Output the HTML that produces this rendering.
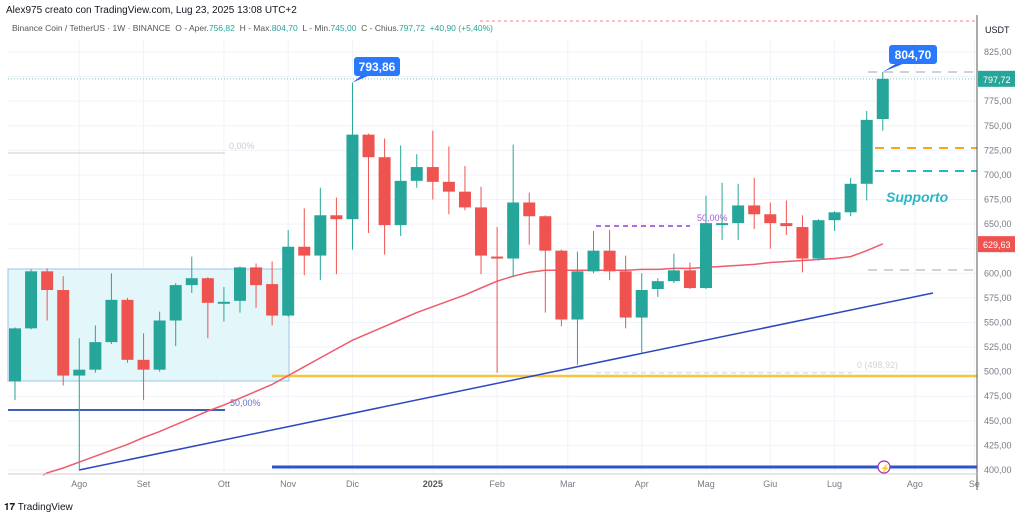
<!DOCTYPE html>
<html><head><meta charset="utf-8"><style>
body{margin:0;background:#fff;font-family:"Liberation Sans",sans-serif;}
#wrap{position:relative;width:1024px;height:517px;overflow:hidden;background:#fff}
svg text{font-family:"Liberation Sans",sans-serif}
tspan{white-space:pre}
</style></head><body><div id="wrap">
<svg id="c" width="1024" height="517"></svg>
</div>
<script>
const opens=[490,544,602,583,496,502,530,573,512,502,552,588,595,570,572,606,589,557,627,618,659,655,741,718,649,694,708,693,683,667,617,615,672,658,623,553,602,623,602,555,584,592,603,585,650,651,669,660,651,647,615,654,662,691,756.82];
const highs=[545,604,605,597,534,547,600,575,539,561,590,617,596,586,607,610,612,644,666,687,677,793.86,742,737,730,721,745,729,709,688,647,731,682,659,624,622,643,644,618,600,595,620,611,679,692,691,697,672,674,659,655,663,697,765,804.70];
const lows=[471,543,552,486,400,499,528,509,471,500,526,580,534,551,560,565,547,556,598,593,599,624,641,619,638,687,675,660,664,599,499,596,629,560,546,507,600,593,544,519,576,590,584,584,634,634,645,625,639,601,613,643,658,674,745];
const closes=[544,602,583,496,502,530,573,512,502,552,588,595,570,571,606,588,557,627,618,659,655,741,718,649,694,708,693,683,667,618,615,672,658,623,553,602,623,602,555,583,592,603,585,651,651,669,660,651,648,615,654,662,691,756,797.72];
const maStart=2;
const ma=[397,402,408,414,420,426,433,439,446,453,460,466,473,480,487,496,505,514,523,532,539,546,553,560,566,572,578,585,592,597,601,603,603,603,603,603,603,604,604,605,605,606,607,608,609,611,612,613,614,615,617,623,630];
const yTicks=[825,800,775,750,725,700,675,650,625,600,575,550,525,500,475,450,425,400];
const xLabels=["Ago","Set","Ott","Nov","Dic","2025","Feb","Mar","Apr","Mag","Giu","Lug","Ago","Se"];
const xLabelIdx=[4,8,13,17,21,26,30,34.4,39,43,47,51,56,59.7];

const svg=document.getElementById('c');const NS='http://www.w3.org/2000/svg';
function y(v){return 52+(825-v)*0.9835;}
function x(i){return 15+i*16.07;}
function el(t,a,p){const e=document.createElementNS(NS,t);for(const k in a)e.setAttribute(k,a[k]);(p||svg).appendChild(e);return e;}
function txt(s,a){const e=el('text',a);e.textContent=s;return e;}
yTicks.forEach(v=>{const g=el('line',{x1:8,x2:977,y1:y(v),y2:y(v),stroke:'#f0f3fa'});
});
xLabelIdx.forEach(i=>{const g=el('line',{x1:x(i),x2:x(i),y1:40,y2:474,stroke:'#f0f3fa'});
});
let b=el('rect',{x:8,y:269,width:281,height:112,fill:'#e3f6fa',stroke:'#9ec4ea','stroke-width':1});

let l;
l=el('line',{x1:8,x2:225,y1:153,y2:153,stroke:'#c8ccd2','stroke-width':1});
l=txt('0,00%',{x:229,y:149,'font-size':9,fill:'#c8ccd2'});
l=el('line',{x1:8,x2:225,y1:410,y2:410,stroke:'#3d5fb8','stroke-width':2});
l=txt('50,00%',{x:230,y:406,'font-size':9,fill:'#5a72c8'});
l=el('line',{x1:272,x2:977,y1:376,y2:376,stroke:'#f5c542','stroke-width':2.5});
l=el('line',{x1:596,x2:852,y1:373,y2:373,stroke:'#d0d3d8','stroke-width':1,'stroke-dasharray':'5 4'});
l=txt('0 (498,92)',{x:857,y:368,'font-size':9,fill:'#d0d3d8'});
l=el('line',{x1:272,x2:977,y1:467,y2:467,stroke:'#2b55c6','stroke-width':3});
l=el('line',{x1:480,x2:977,y1:21,y2:21,stroke:'#f08080','stroke-width':1,'stroke-dasharray':'3 3'});
l=el('line',{x1:8,x2:977,y1:y(797.72),y2:y(797.72),stroke:'#7fc4c0','stroke-width':1,'stroke-dasharray':'1 2'});
l=el('line',{x1:596,x2:690,y1:226,y2:226,stroke:'#9c3bd0','stroke-width':1.5,'stroke-dasharray':'5 4'});
l=txt('50,00%',{x:697,y:221,'font-size':9,fill:'#a35bd6'});
[[72,'#cfd2d6',868],[148,'#f5a623',875],[171,'#29b6c8',875],[270,'#cfd2d6',868]].forEach(d=>{const e=el('line',{x1:d[2],x2:977,y1:d[0],y2:d[0],stroke:d[1],'stroke-width':2,'stroke-dasharray':'9 7'});
});
l=el('line',{x1:79,y1:470,x2:933,y2:293,stroke:'#2b46c0','stroke-width':1.5});
let pts=ma.map((v,i)=>x(i+maStart).toFixed(1)+','+y(v).toFixed(1)).join(' ');
l=el('polyline',{points:'43,475 '+pts,fill:'none',stroke:'#ee5b6b','stroke-width':1.5});
opens.forEach((o,i)=>{const c=closes[i],up=c>=o,col=up?'#26a69a':'#ef5350';
const g=el('g',{});
el('line',{x1:x(i),x2:x(i),y1:y(highs[i]),y2:y(lows[i]),stroke:col,'stroke-width':1},g);
const t=y(Math.max(o,c)),bb=y(Math.min(o,c));
el('rect',{x:x(i)-6,y:t,width:12,height:Math.max(bb-t,2),fill:col},g);});
function callout(v,i,bx,by,w,name){const g=el('g',{});
el('path',{d:`M${x(i)},${y(v)} L${bx+8},${by+18} L${bx+16},${by+18} Z`,fill:'#2962ff'},g);
el('rect',{x:bx,y:by,width:w,height:19,rx:3,fill:'#2979ff'},g);
const t=el('text',{x:bx+w/2,y:by+14,'font-size':12,'font-weight':'bold',fill:'#fff','text-anchor':'middle'},g);t.textContent=v.toFixed(2).replace('.',',');}
callout(highs[21],21,354,57,46,'high-callout-dec');
callout(highs[54],54,889,45,48,'high-callout-jul');
l=txt('Supporto',{x:886,y:202,'font-size':14,'font-weight':'bold','font-style':'italic',fill:'#29b6c8'});
l=el('circle',{cx:884,cy:467,r:6,fill:'#fff',stroke:'#9c27b0','stroke-width':1.2});
txt('⚡',{x:880,y:471,'font-size':8,fill:'#9c27b0'});
l=el('line',{x1:977,x2:977,y1:15,y2:490,stroke:'#555','stroke-width':1});
l=el('line',{x1:8,x2:977,y1:474,y2:474,stroke:'#ccc','stroke-width':1});
txt('USDT',{x:985,y:33,'font-size':9,fill:'#131722'});
yTicks.forEach(v=>{if(v===800)return;const t=txt(v.toFixed(2).replace('.',','),{x:984,y:y(v)+3,'font-size':9,fill:'#787b86'});
});
function tag(v,col,name){const g=el('g',{});
el('rect',{x:978,y:y(v)-8,width:37,height:16,fill:col},g);const t=el('text',{x:983,y:y(v)+4,'font-size':9,fill:'#fff'},g);t.textContent=v.toFixed(2).replace('.',',');}
tag(797.72,'#26a69a','last-price-tag');tag(629.63,'#ef5350','ma-price-tag');
xLabels.forEach((s,k)=>{const t=txt(s,{x:x(xLabelIdx[k]),y:487,'font-size':9,fill:'#787b86','text-anchor':'middle','font-weight':s==='2025'?'bold':'normal'});
if(s==='2025')t.setAttribute('fill','#555');
});
l=txt('Alex975 creato con TradingView.com, Lug 23, 2025 13:08 UTC+2',{x:6,y:13,'font-size':10,fill:'#131722'});
const h=el('text',{x:12,y:31,'font-size':8.5,fill:'#555'});
[['Binance Coin / TetherUS · 1W · BINANCE  O - Aper.','#555'],['756,82','#26a69a'],['  H - Max.','#555'],['804,70','#26a69a'],['  L - Min.','#555'],['745,00','#26a69a'],['  C - Chius.','#555'],['797,72  +40,90 (+5,40%)','#26a69a']].forEach(p=>{const s=el('tspan',{fill:p[1]},h);s.textContent=p[0];});
l=txt('𝟏𝟕 TradingView',{x:4,y:510,'font-size':10,fill:'#131722'});
</script></body></html>
